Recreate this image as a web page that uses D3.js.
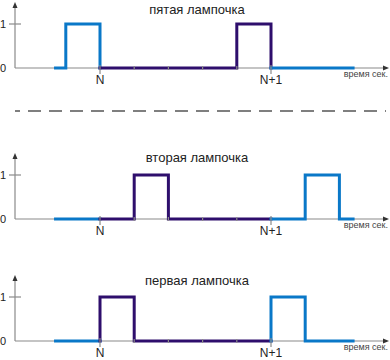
<!DOCTYPE html>
<html>
<head>
<meta charset="utf-8">
<script src="https://cdn.jsdelivr.net/npm/d3@7"></script>
<style>
  body { margin: 0; background: #fff; }
  text { font-family: "Liberation Sans", Arial, sans-serif; fill: #222; }
</style>
</head>
<body>
<script>
// lamp names, one panel each
var titles = ["пятая лампочка", "вторая лампочка", "первая лампочка"];

// tick positions on the time axis (in periods of one lamp)
var tickValues = [0, 1, 2, 3, 4, 5];
var tickLabels = {0: "N", 5: "N+1"};
var yLabels = [0, 1];

// signal of each lamp: before N (blue), N..N+1 (purple), after N+1 (blue)
var fifthBefore  = [[-1.3,0],[-1,0],[-1,1],[0,1],[0,0]];
var fifthDuring  = [[0,0],[4,0],[4,1],[5,1],[5,0]];
var fifthAfter   = [[5,0],[7.4,0]];

var secondBefore = [[-1.3,0],[0,0]];
var secondDuring = [[0,0],[1,0],[1,1],[2,1],[2,0],[5,0]];
var secondAfter  = [[5,0],[6,0],[6,1],[7,1],[7,0],[7.4,0]];

var firstBefore  = [[-1.3,0],[0,0]];
var firstDuring  = [[0,0],[0,1],[1,1],[1,0],[5,0]];
var firstAfter   = [[5,0],[5,1],[6,1],[6,0],[7.4,0]];

var signals = [
    [fifthBefore, fifthDuring, fifthAfter],
    [secondBefore, secondDuring, secondAfter],
    [firstBefore, firstDuring, firstAfter]
];

var blue = "#0a78c8", purple = "#2e0e6c", grey = "#8a8a8a";
var segColors = [blue, purple, blue];

var svg = d3.select("body").append("svg")
    .attr("width", 390)
    .attr("height", 360);

var x = d3.scaleLinear().domain([0, 5]).range([100, 271]);

var zeros = [68, 219, 341];     // baseline of each panel
var titleY = [14, 162, 285];

function drawPanel(p){
    var y = d3.scaleLinear().domain([0, 1]).range([zeros[p], zeros[p] - 44]);
    var g = svg.append("g");

    // y axis with arrow
    g.append("line")
        .attr("x1", 15).attr("x2", 15)
        .attr("y1", y(0)).attr("y2", y(0) - 62)
        .attr("stroke", grey).attr("stroke-width", 1.2);
    g.append("path")
        .attr("d", "M12.5," + (y(0) - 60) + " L15," + (y(0) - 66) + " L17.5," + (y(0) - 60) + "Z")
        .attr("fill", "#333");
    // tick at 1
    g.append("line")
        .attr("x1", 9).attr("x2", 21)
        .attr("y1", y(1)).attr("y2", y(1))
        .attr("stroke", grey).attr("stroke-width", 1.2);
    g.selectAll("text.yl").data(yLabels).enter().append("text")
        .attr("class", "yl")
        .attr("x", 0).attr("y", function(d){ return y(d) + 4; })
        .attr("font-size", 11)
        .text(function(d){ return d; });

    // x axis with arrow
    g.append("line")
        .attr("x1", 15).attr("x2", 386)
        .attr("y1", y(0)).attr("y2", y(0))
        .attr("stroke", grey).attr("stroke-width", 1.2);
    g.append("path")
        .attr("d", "M383," + (y(0) - 2.5) + " L389," + y(0) + " L383," + (y(0) + 2.5) + "Z")
        .attr("fill", "#333");

    // signal segments
    var line = d3.line()
        .x(function(d){ return x(d[0]); })
        .y(function(d){ return y(d[1]); });
    signals[p].forEach(function(seg, i){
        g.append("path")
            .attr("d", line(seg))
            .attr("fill", "none")
            .attr("stroke", segColors[i])
            .attr("stroke-width", 3)
            .attr("stroke-linejoin", "miter")
            .attr("stroke-linecap", "square");
    });

    // time ticks
    g.selectAll("line.tk").data(tickValues).enter().append("line")
        .attr("class", "tk")
        .attr("x1", function(d){ return x(d); })
        .attr("x2", function(d){ return x(d); })
        .attr("y1", function(d){ return tickLabels[d] ? y(0) - 3 : y(0) - 2; })
        .attr("y2", function(d){ return tickLabels[d] ? y(0) + 6 : y(0) + 2; })
        .attr("stroke", grey).attr("stroke-width", 1.2);
    g.selectAll("text.xl").data(tickValues.filter(function(d){ return tickLabels[d]; }))
        .enter().append("text")
        .attr("class", "xl")
        .attr("x", function(d){ return x(d); })
        .attr("y", y(0) + 16)
        .attr("text-anchor", "middle")
        .attr("font-size", 12)
        .text(function(d){ return tickLabels[d]; });

    g.append("text")
        .attr("x", 388).attr("y", y(0) + 9)
        .attr("text-anchor", "end")
        .attr("font-size", 9)
        .style("fill", "#444")
        .text("время сек.");

    g.append("text")
        .attr("x", 197).attr("y", titleY[p])
        .attr("text-anchor", "middle")
        .attr("font-size", 13)
        .text(titles[p]);
}

for(var p = 0; p < 3; p++){
    drawPanel(p);
}

// dashed separator
svg.append("line")
    .attr("x1", 15).attr("x2", 386)
    .attr("y1", 111).attr("y2", 111)
    .attr("stroke", "#555").attr("stroke-width", 1.3)
    .attr("stroke-dasharray", "13,8")
    .attr("stroke-dashoffset", 8);
</script>
</body>
</html>
